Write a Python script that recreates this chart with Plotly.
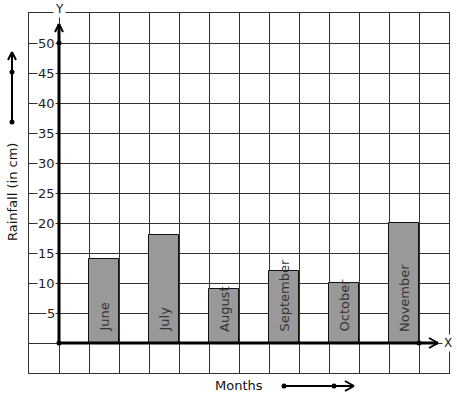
import plotly.graph_objects as go

months = ["June", "July", "August", "September", "October", "November"]
rainfall = [14, 18, 9, 12, 10, 20]
y_ticks = [5, 10, 15, 20, 25, 30, 35, 40, 45, 50]

W, H = 457, 399
PL, PR, PT, PB = 29, 449, 13, 373        # plot area in window pixels
L, T = PL, PT
R, B = W - PR, H - PB
pw, ph = PR - PL, PB - PT
X0, X1 = -1, 13
Y0, Y1 = -5, 55
px_x = (X1 - X0) / pw
px_y = (Y1 - Y0) / ph

def fx(px):
    return (px - PL) / pw
def fy(py):
    return (PB - py) / ph

xpos = [2 * i + 1.5 for i in range(len(months))]

fig = go.Figure()
fig.add_trace(go.Bar(
    x=xpos, y=rainfall, width=1.0,
    marker=dict(color="#999999", line=dict(color="#111111", width=1)),
    hoverinfo="skip", showlegend=False,
))

ann = []
for xp, m in zip(xpos, months):
    ann.append(dict(x=xp, y=0, text=m, textangle=-90, showarrow=False,
                    xanchor="center", yanchor="bottom", yshift=9,
                    font=dict(family="DejaVu Sans", size=13, color="#333333")))
for t in y_ticks:
    ann.append(dict(x=0, y=t, text=str(t), showarrow=False, xanchor="right",
                    yanchor="middle", xshift=-3, bgcolor="white", borderpad=0,
                    font=dict(family="DejaVu Sans", size=13, color="#222222")))
ann.append(dict(x=0, y=1, xref="x", yref="paper", text="Y", showarrow=False,
                xanchor="center", yanchor="middle", yshift=4, bgcolor="white",
                font=dict(family="DejaVu Sans", size=12, color="#222222")))
ann.append(dict(x=X1, y=0, text="X", showarrow=False, xanchor="center",
                yanchor="middle", xshift=-1, bgcolor="white",
                font=dict(family="DejaVu Sans", size=12, color="#222222")))
ann.append(dict(x=fx(12), y=fy(192), xref="paper", yref="paper",
                text="Rainfall (in cm)", textangle=-90, showarrow=False,
                xanchor="center", yanchor="middle",
                font=dict(family="DejaVu Sans", size=13, color="#111111")))
ann.append(dict(x=fx(239), y=fy(385), xref="paper", yref="paper",
                text="Months", showarrow=False, xanchor="center", yanchor="middle",
                font=dict(family="DejaVu Sans", size=13, color="#111111")))

shapes = []
def pline(x0, y0, x1, y1, w=2):
    shapes.append(dict(type="line", xref="paper", yref="paper",
                       x0=fx(x0), y0=fy(y0), x1=fx(x1), y1=fy(y1),
                       line=dict(color="black", width=w)))
def pdot(x, y, r=2.5):
    shapes.append(dict(type="circle", xref="paper", yref="paper",
                       x0=fx(x - r), x1=fx(x + r), y0=fy(y + r), y1=fy(y - r),
                       fillcolor="black", line=dict(color="black", width=0)))
def dline(x0, y0, x1, y1, w=3):
    shapes.append(dict(type="line", xref="x", yref="y", x0=x0, y0=y0, x1=x1, y1=y1,
                       line=dict(color="black", width=w)))
def ddot(x, y, r=2.5):
    shapes.append(dict(type="circle", xref="x", yref="y",
                       x0=x - r * px_x, x1=x + r * px_x, y0=y - r * px_y, y1=y + r * px_y,
                       fillcolor="black", line=dict(color="black", width=0)))

# axes
y_top = 50 + 19 * px_y
x_end = 12 + 19 * px_x
dline(0, 0, 0, y_top)
dline(-4 * px_x, y_top - 8 * px_y, 0, y_top, 2)
dline(4 * px_x, y_top - 8 * px_y, 0, y_top, 2)
dline(0, 0, x_end, 0)
dline(x_end - 9 * px_x, 5 * px_y, x_end, 0, 2)
dline(x_end - 9 * px_x, -5 * px_y, x_end, 0, 2)
ddot(0, 0)
ddot(0, 50)
ddot(12, 0)

# rainfall side arrow
pline(12, 122, 12, 53)
pline(8, 60, 12, 52)
pline(16, 60, 12, 52)
pdot(12, 122)
pdot(12, 72)

# months arrow
pline(284, 386, 353, 386)
pline(345, 381, 354, 386)
pline(345, 391, 354, 386)
pdot(284, 386)
pdot(334, 386)

fig.update_layout(
    width=W, height=H,
    margin=dict(l=L, r=R, t=T, b=B, pad=0),
    paper_bgcolor="white", plot_bgcolor="white",
    annotations=ann, shapes=shapes, bargap=0,
    xaxis=dict(range=[X0, X1], tickvals=list(range(X0, X1 + 1)), showticklabels=False,
               showgrid=True, gridcolor="#333333", gridwidth=1, zeroline=False,
               showline=True, mirror=True, linecolor="#333333", linewidth=1, ticks=""),
    yaxis=dict(range=[Y0, Y1], tickvals=list(range(Y0, Y1 + 1, 5)), showticklabels=False,
               showgrid=True, gridcolor="#333333", gridwidth=1, zeroline=False,
               showline=True, mirror=True, linecolor="#333333", linewidth=1, ticks=""),
)
fig.write_html("out.html", config={"displayModeBar": False},
               post_script="document.body.style.margin='0';document.body.style.overflow='hidden';")
